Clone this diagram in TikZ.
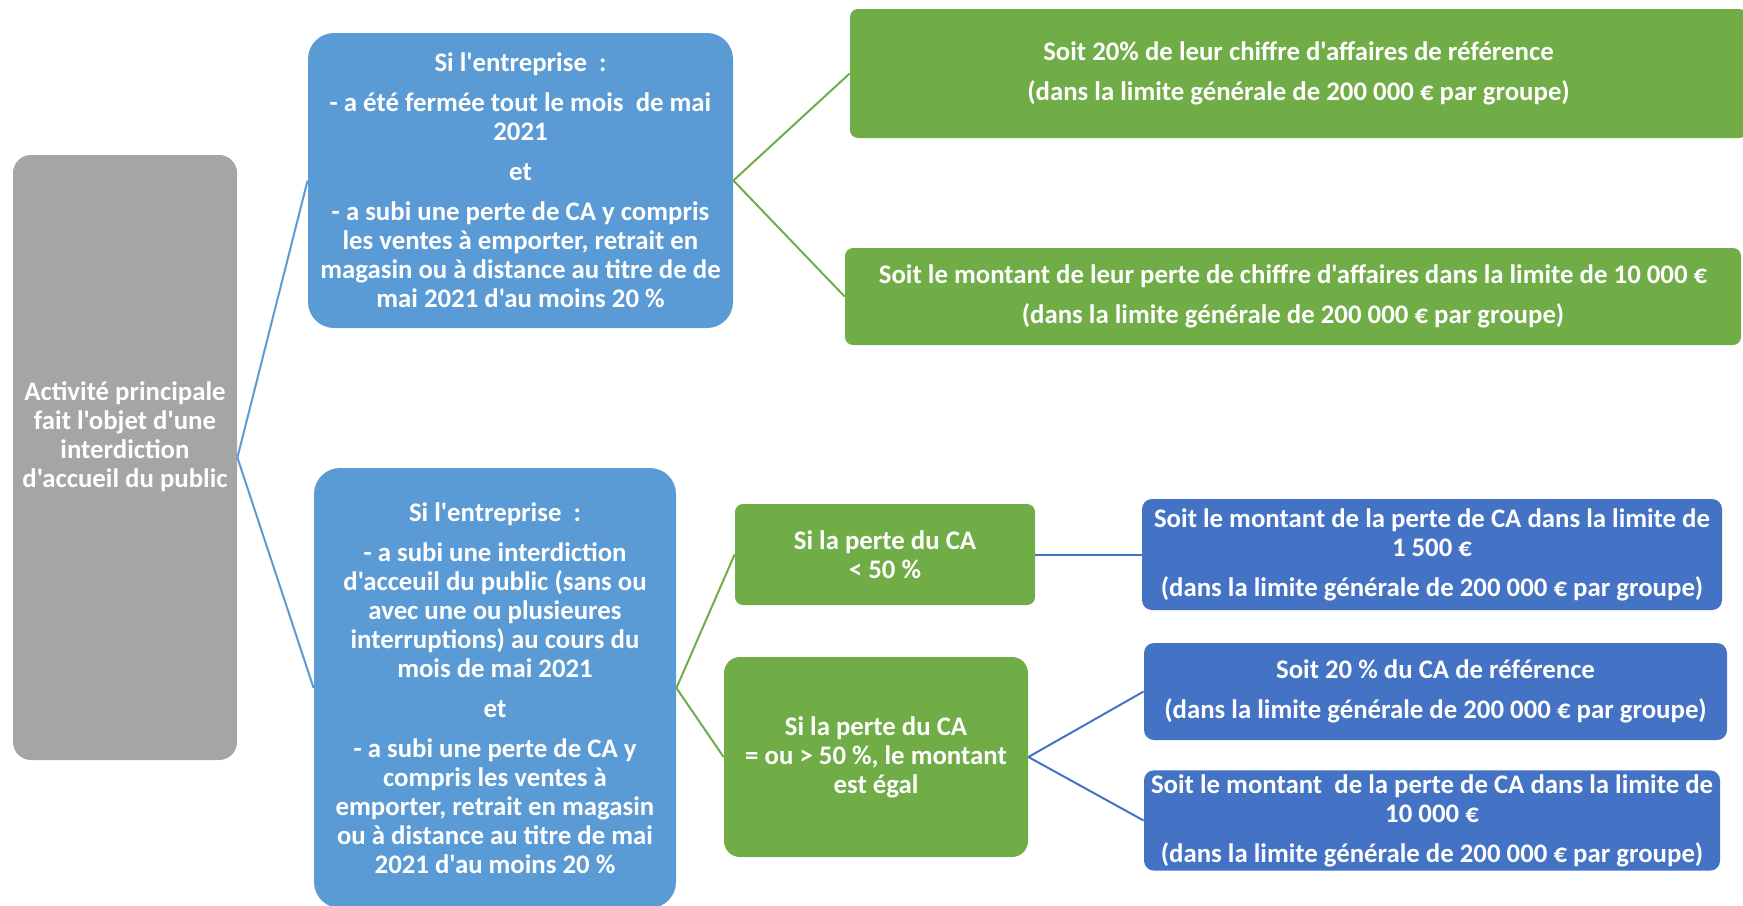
\documentclass[tikz,border=0pt]{standalone}
\usepackage{fontspec}
\setmainfont{Carlito}[Ligatures=TeXOff]
\usepackage{tikz}
\usetikzlibrary{positioning}

\definecolor{grisbloc}{HTML}{A5A5A5}
\definecolor{bleuclair}{HTML}{5B9BD5}
\definecolor{vertbloc}{HTML}{70AD47}
\definecolor{bleufonce}{HTML}{4472C4}

\begin{document}
\begin{tikzpicture}[
    x=0.5pt, y=-0.5pt,
    bloc/.style={rectangle, inner sep=2pt, align=center, text=white, font=\bfseries\fontsize{13.4}{14.5}\selectfont},
    gris/.style={bloc, fill=grisbloc, rounded corners=9pt},
    cond/.style={bloc, fill=bleuclair, rounded corners=13pt},
    vert/.style={bloc, fill=vertbloc, rounded corners=4pt},
    bleu/.style={bloc, fill=bleufonce, rounded corners=5pt},
    lien/.style={line width=1pt}
]
\useasboundingbox (0,0) rectangle (1743,905);
\clip (0,0) rectangle (1743,905);

% Activite
\node[gris, minimum width=112pt, minimum height=302.5pt] (activite) at (125,457.5) {};
\node[bloc] (activitetexte) at ([yshift=10.5pt]activite.center)
    {Activité principale\\fait l'objet d'une\\interdiction\\d'accueil du public};

% Conditions
\node[cond, minimum width=212.5pt, minimum height=147.5pt] (ferme) at (520.5,180.5)
    {Si l'entreprise~~:\\[5.5pt]
     - a été fermée tout le mois~~de mai\\2021\\[5.5pt]
     et\\[5.5pt]
     - a subi une perte de CA y compris\\les ventes à emporter, retrait en\\magasin ou à distance au titre de de\\mai 2021 d'au moins 20~\%};
\node[cond, minimum width=181pt, minimum height=220pt] (interdit) at (495,688)
    {Si l'entreprise~~:\\[5.5pt]
     - a subi une interdiction\\d'acceuil du public (sans ou\\avec une ou plusieures\\interruptions) au cours du\\mois de mai 2021\\[5.5pt]
     et\\[5.5pt]
     - a subi une perte de CA y\\compris les ventes à\\emporter, retrait en magasin\\ou à distance au titre de mai\\2021 d'au moins 20~\%};

% Montants (fermeture)
\node[vert, minimum width=448.5pt, minimum height=64.5pt] (vingt) at (1298.5,73.5)
    {Soit 20\% de leur chiffre d'affaires de référence\\[5.5pt]
     (dans la limite générale de 200~000~€ par groupe)};
\node[vert, minimum width=448pt, minimum height=48.5pt] (dixmille) at (1293,296.5)
    {Soit le montant de leur perte de chiffre d'affaires dans la limite de 10~000~€\\[5.5pt]
     (dans la limite générale de 200~000~€ par groupe)};

% Seuils de perte
\node[vert, minimum width=150pt, minimum height=50.5pt] (moins) at (885,554.5)
    {Si la perte du CA\\< 50~\%};
\node[vert, rounded corners=8pt, minimum width=152pt, minimum height=100pt] (plus) at (876,757)
    {Si la perte du CA\\= ou > 50~\%, le montant\\est égal};

% Montants (interdiction)
\node[bleu, minimum width=290pt, minimum height=55.5pt] (quinze) at (1432,554.5)
    {Soit le montant de la perte de CA dans la limite de\\1~500~€\\[5.5pt]
     (dans la limite générale de 200~000~€ par groupe)};
\node[bleu, minimum width=291.5pt, minimum height=48.5pt] (vingtca) at (1435.5,691.5)
    {Soit 20~\% du CA de référence\\[5.5pt]
     (dans la limite générale de 200~000~€ par groupe)};
\node[bleu, minimum width=288pt, minimum height=48.5pt] (dixca) at (1432,820.5)
    {Soit le montant~~de la perte de CA dans la limite de\\10~000~€\\[5.5pt]
     (dans la limite générale de 200~000~€ par groupe)};

% Liens
\draw[lien, bleuclair] (activite.east) -- (ferme.west);
\draw[lien, bleuclair] (activite.east) -- (interdit.west);
\draw[lien, vertbloc] (ferme.east) -- (vingt.west);
\draw[lien, vertbloc] (ferme.east) -- (dixmille.west);
\draw[lien, vertbloc] (interdit.east) -- (moins.west);
\draw[lien, vertbloc] (interdit.east) -- (plus.west);
\draw[lien, bleufonce] (moins.east) -- (quinze.west);
\draw[lien, bleufonce] (plus.east) -- (vingtca.west);
\draw[lien, bleufonce] (plus.east) -- (dixca.west);

\end{tikzpicture}
\end{document}
